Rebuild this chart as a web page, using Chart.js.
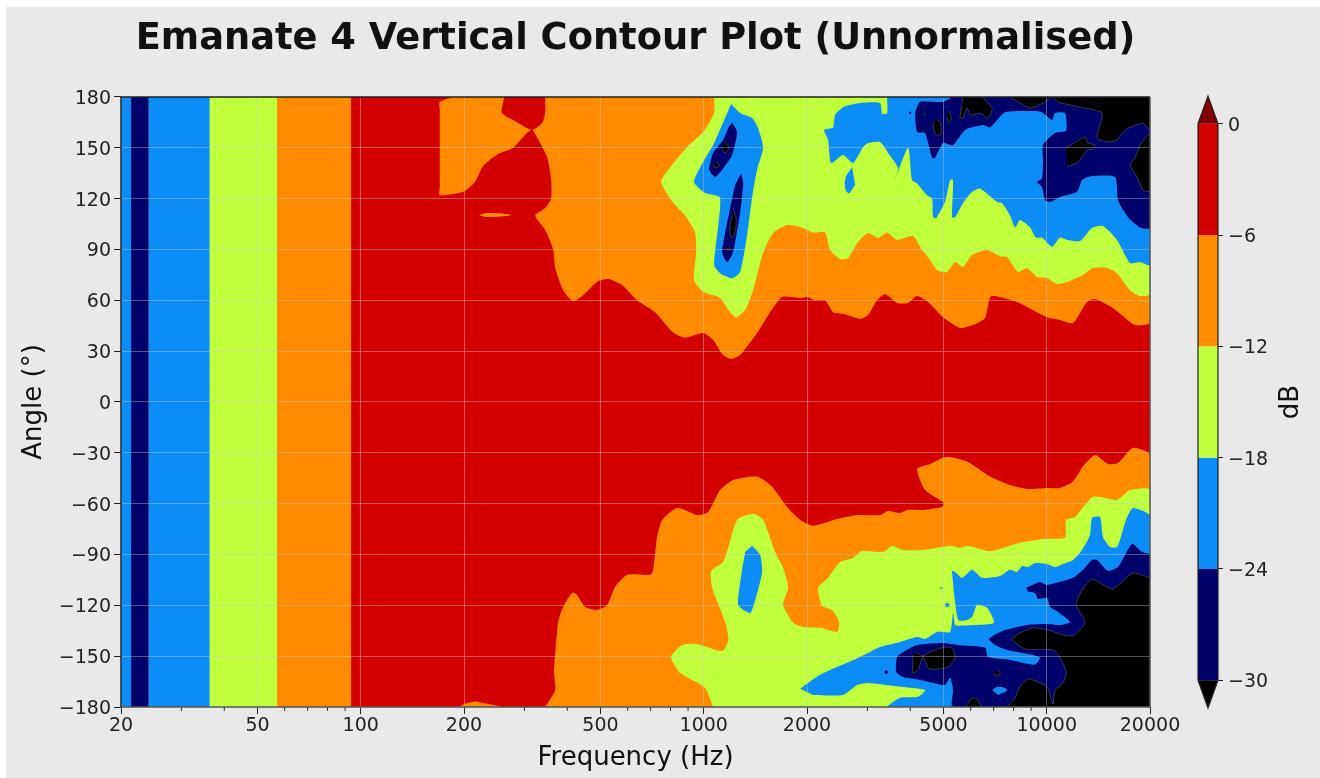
<!DOCTYPE html>
<html>
<head>
<meta charset="utf-8">
<title>Emanate 4 Vertical Contour Plot</title>
<script src="https://cdn.jsdelivr.net/npm/chart.js@4/dist/chart.umd.min.js"></script>
<style>
  html, body { margin: 0; padding: 0; background: #fff; overflow: hidden; }
  #page { position: absolute; left: 6px; top: 7px; width: 1314px; height: 771px; background: #e9e9e9; }
  #contour { position: absolute; left: 0; top: 0; }
  #cbar { position: absolute; left: 1154px; top: -7px; }
</style>
</head>
<body>
<div id="page">
  <canvas id="contour" width="1259" height="771"></canvas>
  <canvas id="cbar" width="160" height="778"></canvas>
</div>
<script>
// axis ticks
const xTicks = [20, 50, 100, 200, 500, 1000, 2000, 5000, 10000, 20000];
const xMinorTicks = [30, 40, 60, 70, 80, 90, 300, 400, 600, 700, 800, 900, 3000, 4000, 6000, 7000, 8000, 9000];
const yTicks = [180, 150, 120, 90, 60, 30, 0, -30, -60, -90, -120, -150, -180];
const dbTicks = [0, -6, -12, -18, -24, -30];

const RED = '#d40000', ORANGE = '#ff8c00', LIME = '#bfff3c', BLUE = '#0c8cf5', NAVY = '#00006a', BLACK = '#000000', DARKRED = '#7f0000';

// every contour below is a list of [frequency Hz, angle deg]
// low frequency bands, same at all angles
const bandEdges = [20, 21.4, 24.1, 36.3, 57, 93.7, 20000];
const bandColors = [BLUE, NAVY, BLUE, LIME, ORANGE, RED];

const upperOrange = [[186,180],[170,177],[170,172],[170,150],[170,127],[170,122],[199,124],[215.5,130],[227,139],[250,146],[278,150],[306,159],[316,160.5],[329,155],[350,144],[359,131],[359,120],[345,114.5],[322.5,110],[345,101.5],[364,90],[369,79],[389,66],[416,59.5],[445,63],[489,71],[526,72.5],[578,69],[639,60],[721,53],[814,41],[882,38],[996,40.7],[1065,36.6],[1139,27.7],[1202,25.4],[1277,27.7],[1430,40.7],[1561,53],[1692,62],[1910,61.4],[2002,62],[2112,60],[2258,60],[2383,53],[2549,52],[2857,49],[3014,51.3],[3202,60],[3378,63.7],[3662,58.4],[3943,58.4],[4188,62.5],[4508,59],[4986,50],[5589,43.7],[6098,45.4],[6609,49.6],[6836,62],[7069,62.5],[8193,59],[10020,50],[10934,48.4],[11930,46.6],[13105,59],[13830,60.8],[15600,55.5],[18085,45.4],[20000,47],[20000,180]];
const upperRedIsland = [[262,180],[258,170.5],[286,165],[316,160.5],[338,164.6],[345,170.5],[345,180]];
const orangeSliver = [[221,110.3],[235,111.5],[274,110.3],[246,109.2],[230,109.2]];
const bottomSliver = [[191,-180],[211,-177],[227,-177.6],[260,-180]];

const upperLime = [[1072,180],[1072,170.5],[996,159.3],[894,150.5],[809,140],[751,130],[798,120],[882,110],[944,100],[950,88],[937,72],[996,65],[1116,61.4],[1180,54.3],[1243,50],[1321,54.3],[1393,66],[1490,88],[1593,99.7],[1750,104.4],[1910,103.3],[2083,100],[2258,100],[2336,89.7],[2498,84.4],[2635,85],[2818,94.4],[3014,99.7],[3223,96.8],[3424,100],[3662,95.6],[4076,98],[4330,89.7],[4508,85.6],[4789,77.9],[5122,76.7],[5404,82.6],[5702,79.7],[6055,86.7],[6699,89.7],[7310,86],[7661,85.6],[8248,76.7],[8761,79],[9369,73.8],[10020,73.2],[10716,69.6],[11459,70.8],[12755,75],[13640,79],[14987,79],[16027,76],[17490,66],[18704,62.5],[20000,63.7],[20000,180]];

const upperBlue = [[3424,180],[3424,170.5],[3310,170],[3267,176.4],[2857,176.4],[2549,174],[2415,169.3],[2383,162],[2243,160.5],[2304,154.6],[2352,141],[2549,145.7],[2725,141],[2915,150.5],[3014,152.8],[3267,153.4],[3447,147],[3686,138],[3588,129.8],[3943,150],[4048,131],[4188,129],[4478,122],[4631,120],[4663,109],[4758,108.6],[5053,118],[5226,131],[5331,131],[5296,109],[5404,109],[5702,117.4],[6055,124],[6392,126],[7164,118],[7408,117.4],[7818,110],[8085,103],[8360,107.4],[8940,103],[9307,97],[9686,97],[10360,91.5],[10934,97],[11459,95.6],[12505,95],[13550,102.7],[14590,103.8],[16027,95.6],[17490,82],[18704,82.6],[20000,80.8],[20000,180]];
const upperBlueHole = [[2707,138.7],[2583,131],[2635,123.3],[2762,128]];
const upperBlueIsland = [[1202,175.8],[1277,170.5],[1383,167.6],[1440,161.7],[1490,150],[1430,137],[1383,120.4],[1338,98.5],[1277,76.7],[1210,73],[1116,76],[1072,80.8],[1116,120.4],[1009,123.3],[937,129.8],[996,141.6],[1065,151.6],[1139,165]];
const navyIslandA = [[1210,165],[1251,159.3],[1210,145.7],[1131,137],[1080,132.8],[1037,137],[1065,147],[1139,154.6],[1180,162]];
const navyIslandB = [[1286,135],[1303,129],[1277,112],[1218,88.5],[1170,82.6],[1131,88.5],[1194,114.5],[1234,128]];
const blackSpotA1 = [[1154,153.4],[1180,150],[1154,147],[1131,150]];
const blackSpotA2 = [[1087,141.6],[1109,140],[1087,138],[1065,140]];
const blackSpotB1 = [[1218,114.5],[1243,106],[1210,96.8],[1194,102.7],[1210,110]];
const blackSpotB2 = [[1180,92],[1194,90.9],[1180,89.7],[1165,90.9]];

const upperNavy = [[5296,180],[4986,177],[4273,177],[4135,170.5],[4188,159.3],[4418,158.7],[4631,144],[4725,144],[4986,152.8],[5331,151.6],[5779,160.5],[6520,163.4],[6836,162],[7559,171],[9120,171.7],[9686,171],[10360,166.4],[10573,170.5],[11306,170.5],[11382,160],[10573,158.7],[9753,151.6],[9753,141.6],[9686,132],[9369,129.8],[9686,126.9],[9886,119],[10225,118],[10934,121],[12254,124],[12672,131],[13550,133.3],[15813,132.8],[16140,119],[17255,109],[18704,103],[20000,102.7],[20000,180]];
const navyDotTop = [[3996,171.5],[4030,170.5],[3996,169.7],[3960,170.5]];

const blackTopA = [[5702,180],[5589,168],[5702,167.6],[5857,173.5],[5977,169.3],[6392,170.5],[6744,167.6],[6929,173.5],[6480,180]];
const blackTopB = [[4789,167.6],[4920,163.4],[4920,158.7],[4789,157],[4663,161.7],[4694,165.8]];
const blackTopC = [[5191,171.7],[5261,168],[5191,164.6],[5122,168]];
const blackTopD = [[4388,170.8],[4433,170],[4388,169],[4345,170]];
const blackTopRight = [[7818,180],[8360,176.4],[8940,173.5],[9753,176.4],[10360,180],[10790,177],[12505,174],[14490,170.5],[14015,155.8],[15090,153.4],[16027,154.6],[16911,160.5],[19080,164.6],[20000,160.5],[20000,180]];
const blackMidIsland = [[11382,149.9],[12930,156.4],[13195,152.8],[13830,151.6],[13640,149.3],[13105,148.7],[12340,141.6],[11459,138.7]];
const blackRightEdge = [[20000,159.3],[18704,151.6],[18085,144],[17490,139.8],[18330,132.8],[19080,125],[20000,124]];

const lowerOrange = [[345,-180],[369,-170],[366,-159.3],[376,-130.4],[389,-121],[413,-112.7],[427,-113.9],[451,-121],[489,-122.7],[523,-119.8],[552,-109],[598,-102],[698,-102],[712,-99],[731,-79.7],[756,-69.6],[836,-62.5],[956,-66.7],[1030,-65],[1116,-52],[1218,-46],[1430,-44],[1582,-50],[1750,-62],[1910,-69.6],[2083,-73],[2448,-69],[2799,-66.7],[3267,-66.7],[3447,-64.3],[3737,-65.5],[3916,-63.7],[4360,-63.7],[4953,-62],[5019,-59.6],[4418,-52],[4188,-39.5],[4570,-36.6],[4953,-33],[5226,-32.5],[5897,-35.4],[6836,-44],[7818,-49],[8761,-51.3],[10020,-50.7],[10934,-50.7],[11930,-47],[12755,-38],[13830,-31.3],[15090,-36.6],[16140,-36],[17845,-27],[20000,-31.3],[20000,-180]];

const lowerLime = [[1065,-180],[1009,-168.7],[853,-160],[803,-150.5],[865,-143.4],[956,-142.8],[1131,-147],[1180,-140.4],[1154,-129.8],[1058,-109.7],[1051,-99.7],[1139,-94.4],[1180,-85.6],[1251,-69.6],[1393,-66],[1490,-69.6],[1615,-88.5],[1704,-98],[1762,-109.7],[1704,-119.8],[1825,-130.4],[1950,-132.8],[2184,-133.3],[2448,-135.7],[2481,-129.8],[2367,-122.7],[2213,-120.4],[2155,-109.7],[2304,-103.8],[2498,-94.4],[2725,-92],[2896,-88],[3334,-88.5],[3541,-85],[3813,-87.3],[4360,-87.3],[5226,-85],[5589,-86],[5897,-85],[6836,-88],[8360,-83],[9753,-80.8],[11306,-80],[11382,-69.6],[12090,-67.9],[13640,-56],[16027,-57.8],[17490,-52],[20000,-52],[20000,-180]];

const lowerBlue = [[1910,-169.3],[2184,-161],[2857,-150.5],[3267,-144.6],[3737,-141.6],[4188,-138.7],[4418,-139.8],[4789,-135.7],[5226,-135.7],[5331,-124.5],[5404,-131.6],[5515,-132],[6178,-131.6],[7018,-130.4],[6699,-121.5],[6264,-119.8],[6055,-126.9],[5857,-128.6],[5515,-128.6],[5296,-99.7],[5404,-100.3],[5665,-103.8],[6055,-99],[6480,-103.8],[7310,-102.7],[7818,-99],[8193,-100.3],[8473,-96.8],[8820,-97.4],[9240,-95],[10020,-95.6],[10573,-97.4],[11157,-95.6],[11930,-93.2],[12672,-87.3],[13373,-78.5],[13550,-68.4],[14301,-67.9],[14590,-79.7],[15293,-85.6],[16027,-85.6],[16580,-77.3],[17150,-67.9],[17845,-62.5],[20000,-67.3],[20000,-180],[3447,-180],[3737,-174.6],[4217,-174],[4418,-170],[3737,-168],[2995,-165.8],[2799,-167],[2549,-172.9],[2083,-172.9]];
const lowerBlueIsland = [[1383,-85],[1460,-90.3],[1480,-100.3],[1413,-116.8],[1365,-124.5],[1261,-119.8],[1294,-99],[1321,-88.5]];
const blueDotA = [[5122,-118.3],[5209,-119.8],[5122,-121.2],[5036,-119.8]];
const blueDotB = [[4854,-109.7],[4986,-109.5],[4920,-110.5]];

const lowerNavy = [[8700,-109.7],[9561,-106.2],[10020,-108],[11930,-103.8],[12755,-99],[13550,-93.2],[14015,-93.2],[15090,-99.7],[16140,-97.4],[17725,-83.8],[18960,-88.5],[20000,-90.3],[20000,-180],[5331,-180],[5331,-170],[5226,-162.8],[5053,-167],[4663,-165.8],[4273,-164],[3813,-162.3],[3640,-159.3],[3662,-150.5],[3813,-147.5],[4188,-143.4],[4986,-142.2],[5515,-143.4],[6609,-145],[6744,-150.5],[7818,-152.2],[9240,-155],[9561,-151],[9120,-149.3],[7661,-146.3],[7069,-143.4],[6790,-139.8],[7458,-135],[8761,-131.6],[10020,-131],[10934,-131.6],[11693,-129.8],[10790,-123.9],[10225,-121],[10020,-115.6],[9430,-116.2],[9240,-112.7],[8820,-112]];
const navyDotLow = [[3400,-158],[3447,-159.3],[3400,-160.5],[3355,-159.3]];
const blueInNavy = [[6929,-170],[7212,-168],[7661,-170],[7212,-172.9]];

const lowerBlack = [[20000,-103.8],[17845,-100.9],[15600,-110.3],[14301,-106.8],[13550,-104.4],[12672,-110.9],[12170,-119.8],[12930,-129.8],[12090,-137.5],[11459,-138],[10020,-134.5],[9060,-133.3],[7924,-139.8],[8640,-145.7],[10430,-146.3],[10934,-151],[11382,-159.3],[11157,-165.8],[10573,-170],[10430,-178.2],[10225,-172.9],[10020,-168],[9369,-165],[8820,-163.4],[8360,-168],[8085,-174.6],[7712,-180],[20000,-180]];
const blackBottomBump = [[5779,-180],[6137,-174.6],[6480,-180]];
const blackDotLow = [[7164,-158],[7310,-160],[7164,-161.7],[7018,-160]];
const blackLowIsland = [[4076,-149.3],[4076,-160],[4217,-158],[4360,-150.5],[4540,-157.5],[5157,-156.4],[5404,-151],[5296,-145],[4953,-145],[4570,-147.5],[4360,-149.9],[4188,-148]];

// painted in this order, later on top
const layers = [
  [upperOrange, ORANGE], [upperRedIsland, RED], [orangeSliver, ORANGE], [bottomSliver, ORANGE],
  [upperLime, LIME], [upperBlue, BLUE], [upperBlueHole, BLUE], [upperBlueIsland, BLUE],
  [navyIslandA, NAVY], [navyIslandB, NAVY], [upperNavy, NAVY], [navyDotTop, NAVY],
  [blackSpotA1, BLACK], [blackSpotA2, BLACK], [blackSpotB1, BLACK], [blackSpotB2, BLACK],
  [blackTopA, BLACK], [blackTopB, BLACK], [blackTopC, BLACK], [blackTopD, BLACK],
  [blackTopRight, BLACK], [blackMidIsland, BLACK], [blackRightEdge, BLACK],
  [lowerOrange, ORANGE], [lowerLime, LIME], [lowerBlue, BLUE], [lowerBlueIsland, BLUE],
  [blueDotA, BLUE], [blueDotB, BLUE], [lowerNavy, NAVY], [navyDotLow, NAVY], [blueInNavy, BLUE],
  [lowerBlack, BLACK], [blackBottomBump, BLACK], [blackDotLow, BLACK], [blackLowIsland, BLACK]
];

function polygon(points, color, tension) {
  return {
    data: points.map(p => ({ x: p[0], y: p[1] })),
    showLine: true,
    fill: 'shape',
    tension: tension,
    backgroundColor: color,
    borderColor: color === BLACK ? 'rgba(130,130,130,0.7)' : color,
    borderWidth: color === BLACK ? 0.6 : 0,
    pointRadius: 0
  };
}

var datasets = [];
for (let i = 0; i < bandColors.length; i++) {
  let a = bandEdges[i], b = bandEdges[i + 1];
  datasets.push(polygon([[a, -180], [a, 180], [b, 180], [b, -180]], bandColors[i], 0));
}
// the little four point spots need a rounder curve
layers.forEach(l => datasets.push(polygon(l[0], l[1], l[0].length <= 5 ? 0.5 : 0.2)));
// chart.js paints highest order first, so later layers get a smaller order
datasets.forEach((d, i) => { d.order = datasets.length - i; });

const minus = v => String(v).replace('-', '\u2212');
const FONT = 'DejaVu Sans';

// top and right spines plus the short log ticks
const framePlugin = {
  id: 'frame',
  afterDraw(chart) {
    const { ctx, chartArea: a, scales } = chart;
    ctx.save();
    ctx.lineWidth = 1.5;
    ctx.strokeStyle = '#222';
    ctx.beginPath();
    ctx.moveTo(a.left, a.bottom); ctx.lineTo(a.left, a.top); ctx.lineTo(a.right, a.top);
    ctx.stroke();
    ctx.strokeStyle = '#555';
    ctx.beginPath();
    ctx.moveTo(a.left, a.bottom); ctx.lineTo(a.right, a.bottom);
    ctx.moveTo(a.right, a.top); ctx.lineTo(a.right, a.bottom);
    ctx.stroke();
    ctx.lineWidth = 1;
    ctx.strokeStyle = '#333';
    xMinorTicks.forEach(f => {
      const x = scales.x.getPixelForValue(f);
      ctx.beginPath(); ctx.moveTo(x, a.bottom); ctx.lineTo(x, a.bottom + 4); ctx.stroke();
    });
    ctx.restore();
  }
};

new Chart(document.getElementById('contour'), {
  type: 'scatter',
  data: { datasets: datasets },
  plugins: [framePlugin],
  options: {
    responsive: false,
    animation: false,
    devicePixelRatio: 1,
    plugins: {
      legend: { display: false },
      tooltip: { enabled: false },
      title: {
        display: true,
        text: 'Emanate 4 Vertical Contour Plot (Unnormalised)',
        color: '#111',
        font: { family: FONT, size: 36.8, weight: 'bold' },
        padding: { top: 10, bottom: 35.8 }
      }
    },
    scales: {
      x: {
        type: 'logarithmic',
        min: 20,
        max: 20000,
        afterBuildTicks: s => { s.ticks = xTicks.map(v => ({ value: v })); },
        afterFit: s => { s.height = 71; },
        grid: { z: 1, color: 'rgba(200,200,200,0.42)', tickColor: '#222', tickLength: 7 },
        border: { display: false },
        ticks: { color: '#222', font: { family: FONT, size: 19 }, padding: 1, maxRotation: 0, autoSkip: false, callback: v => String(v) },
        title: { display: true, text: 'Frequency (Hz)', color: '#111', font: { family: FONT, size: 26 }, padding: { top: 0, bottom: 4 } }
      },
      y: {
        min: -180,
        max: 180,
        afterBuildTicks: s => { s.ticks = yTicks.map(v => ({ value: v })); },
        afterFit: s => { s.width = 115; },
        grid: { z: 1, color: 'rgba(200,200,200,0.42)', tickColor: '#222', tickLength: 7 },
        border: { display: false },
        ticks: { color: '#222', font: { family: FONT, size: 19 }, padding: 3, labelOffset: 2, autoSkip: false, callback: minus },
        title: { display: true, text: 'Angle (\u00b0)', color: '#111', font: { family: FONT, size: 26 }, padding: { top: 12.5, bottom: 0 } }
      },
      // blank right axis, keeps the title centred over the plot
      yRight: {
        position: 'right',
        afterFit: s => { s.width = 115; },
        grid: { display: false },
        border: { display: false },
        ticks: { display: false }
      }
    }
  }
});

// colour bar, same levels as the contours
const cbarColors = [RED, ORANGE, LIME, BLUE, NAVY];
var cbarSets = cbarColors.map((c, i) => polygon([[0, dbTicks[i]], [1, dbTicks[i]], [1, dbTicks[i + 1]], [0, dbTicks[i + 1]]], c, 0));
cbarSets.push(polygon([[0, 0], [0.5, 1.5], [1, 0]], DARKRED, 0));
cbarSets.push(polygon([[0, -30], [0.5, -31.5], [1, -30]], BLACK, 0));
cbarSets.push({
  data: [[0, 0], [0.5, 1.5], [1, 0], [1, -30], [0.5, -31.5], [0, -30], [0, 0]].map(p => ({ x: p[0], y: p[1] })),
  showLine: true, fill: false, tension: 0, borderColor: '#222', borderWidth: 1.2, pointRadius: 0, order: -1, clip: false
});

const dbLabelPlugin = {
  id: 'dbLabel',
  afterDraw(chart) {
    const { ctx, chartArea: a } = chart;
    ctx.save();
    ctx.translate(131, (a.top + a.bottom) / 2);
    ctx.rotate(-Math.PI / 2);
    ctx.fillStyle = '#111';
    ctx.font = '26px "' + FONT + '"';
    ctx.textAlign = 'center';
    ctx.textBaseline = 'middle';
    ctx.fillText('dB', 0, 0);
    ctx.restore();
  }
};

new Chart(document.getElementById('cbar'), {
  type: 'scatter',
  data: { datasets: cbarSets },
  plugins: [dbLabelPlugin],
  options: {
    responsive: false,
    animation: false,
    devicePixelRatio: 1,
    layout: { padding: { left: 38, right: 0, top: 96, bottom: 70 } },
    plugins: { legend: { display: false }, tooltip: { enabled: false } },
    scales: {
      x: { type: 'linear', min: 0, max: 1, display: false },
      y: {
        position: 'right',
        min: -31.5,
        max: 1.5,
        afterBuildTicks: s => { s.ticks = dbTicks.map(v => ({ value: v })); },
        afterFit: s => { s.width = 102; },
        grid: { drawOnChartArea: false, tickColor: '#222', tickLength: 5 },
        border: { display: false },
        ticks: { color: '#222', font: { family: FONT, size: 19 }, padding: 5, labelOffset: 2, autoSkip: false, callback: minus }
      }
    }
  }
});
</script>
</body>
</html>
